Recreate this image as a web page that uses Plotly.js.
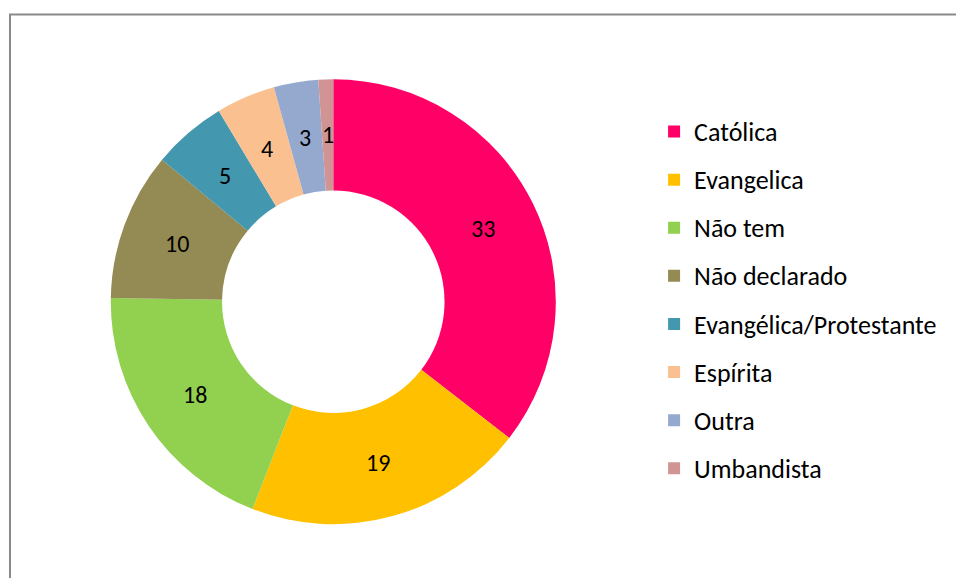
<!DOCTYPE html>
<html>
<head>
<meta charset="utf-8">
<script src="https://cdn.plot.ly/plotly-3.0.1.min.js"></script>
<style>
  html, body { margin: 0; padding: 0; background: #fff; }
  #chart { width: 956px; height: 578px; }
</style>
</head>
<body>
<div id="chart"></div>
<script>
const categories = ["Católica", "Evangelica", "Não tem", "Não declarado", "Evangélica/Protestante", "Espírita", "Outra", "Umbandista"];
const values = [33, 19, 18, 10, 5, 4, 3, 1];
const colors = ["#FF0066", "#FFC000", "#92D050", "#948A54", "#4397AF", "#FAC090", "#95A9CF", "#D19494"];

const FONT = "Carlito, Lato, 'Open Sans', sans-serif";
const W = 956, H = 578;

// pie geometry (pixels)
const cx = 333.3, cy = 301.7, R = 222.5, HOLE = 0.5;
const domX = [(cx - R) / W, (cx + R) / W];
const domY = [(H - cy - R) / H, (H - cy + R) / H];

const trace = {
  type: "pie",
  labels: categories.map(c => '<span style="font-size:26px;baseline-shift:4px">' + c + '</span>'),
  values: values,
  textinfo: "none",
  hole: HOLE,
  sort: false,
  direction: "clockwise",
  rotation: 0,
  marker: { colors: colors, line: { width: 0 } },
  domain: { x: domX, y: domY },
  automargin: false,
  showlegend: true,
  hoverinfo: "skip"
};

// data labels at mid-ring radius, derived from values
const total = values.reduce((a, b) => a + b, 0);
const rMid = R * (1 + HOLE) / 2;
let cum = 0;
const annotations = values.map(v => {
  const theta = (cum + v / 2) / total * 2 * Math.PI;
  cum += v;
  return {
    xref: "paper", yref: "paper",
    x: (cx + rMid * Math.sin(theta)) / W,
    y: (H - cy + rMid * Math.cos(theta)) / H,
    text: String(v),
    showarrow: false,
    xanchor: "center", yanchor: "middle",
    font: { family: FONT, size: 24, color: "#000000" }
  };
});

const layout = {
  width: W,
  height: H,
  margin: { l: 0, r: 0, t: 0, b: 0 },
  paper_bgcolor: "#ffffff",
  plot_bgcolor: "#ffffff",
  font: { family: FONT, color: "#000000" },
  annotations: annotations,
  legend: {
    x: 0.6842,
    xanchor: "left",
    y: 0.481,
    yanchor: "middle",
    font: { family: FONT, size: 34.7, color: "#000000" },
    bgcolor: "rgba(0,0,0,0)",
    traceorder: "normal"
  },
  shapes: [{
    type: "rect",
    xref: "paper", yref: "paper",
    x0: 10 / W, x1: 1.02,
    y0: -0.02, y1: 1 - 14.5 / H,
    line: { color: "#898989", width: 2 },
    fillcolor: "rgba(0,0,0,0)"
  }]
};

Plotly.newPlot("chart", [trace], layout, { displayModeBar: false, staticPlot: true });
</script>
</body>
</html>
